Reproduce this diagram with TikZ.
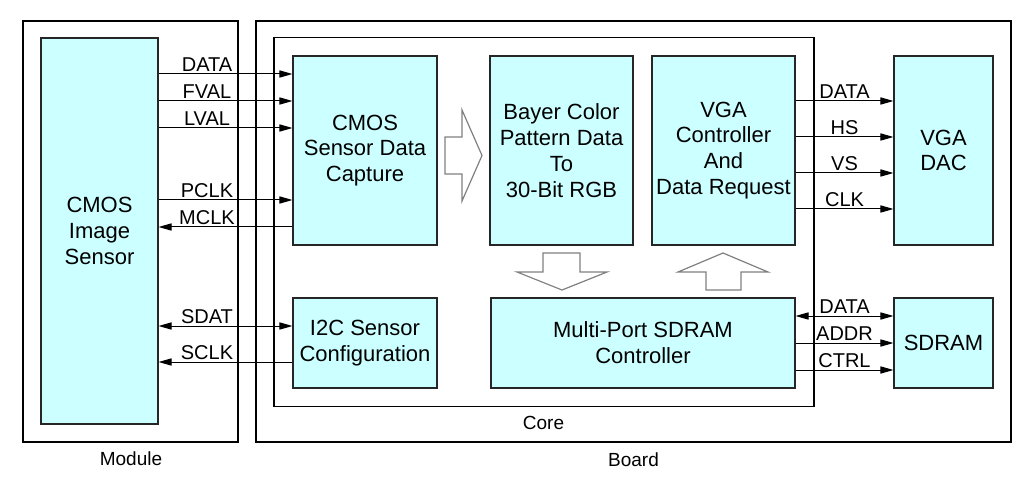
\documentclass[tikz,border=0pt]{standalone}
\usepackage{fontspec}
\setmainfont{Liberation Sans}
\usetikzlibrary{arrows.meta}
\definecolor{boxfill}{HTML}{CCFFFF}
\definecolor{blkgray}{HTML}{808080}
\tikzset{
  frame/.style={draw=black, line width=0.6pt, inner sep=0pt},
  box/.style={draw=black!85, fill=boxfill, line width=0.6pt, inner sep=0pt, align=center,
              font=\fontsize{11}{12.9}\selectfont},
  lbl/.style={inner sep=1pt, font=\fontsize{10}{11}\selectfont},
  captxt/.style={inner sep=0pt, font=\fontsize{9.5}{11}\selectfont},
  sig/.style={line width=0.5pt, -{Triangle[length=6.5pt,width=3.6pt]}},
  bisig/.style={line width=0.5pt, {Triangle[length=6.5pt,width=3.6pt]}-{Triangle[length=6.5pt,width=3.6pt]}},
  bigarrow/.style={draw=blkgray, fill=white, line width=0.6pt, line join=miter}
}
\begin{document}
\begin{tikzpicture}[x=0.5pt,y=-0.5pt]
\useasboundingbox (0,0) rectangle (1027,497);
% frames
\node[frame, minimum width=107.5pt, minimum height=210.5pt] (module) at (130.5,231.5) {};
\node[frame, minimum width=377.5pt, minimum height=210.5pt] (board) at (633.5,231.5) {};
\node[frame, minimum width=270pt, minimum height=184.5pt] (core) at (544,222.25) {};
% blocks
\node[box, minimum width=58.5pt, minimum height=193pt] (sensor) at (99.5,231) {CMOS\\Image\\Sensor};
\node[box, minimum width=72pt, minimum height=94.5pt] (capture) at (365,150.5) {CMOS\\Sensor Data\\Capture};
\node[box, minimum width=71.5pt, minimum height=94.5pt] (bayer) at (561.5,150.5) {Bayer Color\\Pattern Data\\To\\30-Bit RGB};
\node[box, minimum width=71.5pt, minimum height=94.5pt] (vgactl) at (723.5,150.5) {VGA\\Controller\\And\\Data Request};
\node[box, minimum width=49.5pt, minimum height=94.5pt] (dac) at (943.5,150.5) {VGA\\DAC};
\node[box, minimum width=72pt, minimum height=45pt] (i2c) at (365,343) {I2C Sensor\\Configuration};
\node[box, minimum width=152pt, minimum height=45pt] (sdctl) at (643,343) {Multi-Port SDRAM\\Controller};
\node[box, minimum width=49.5pt, minimum height=45pt] (sdram) at (943.5,343) {SDRAM};
% captions
\node[captxt] (lcore) at (543.5,423) {Core};
\node[captxt] (lboard) at (633.5,460) {Board};
\node[captxt] (lmodule) at (131,459) {Module};
% sensor <-> capture signals
\draw[sig] (sensor.east |- 0,74) -- (capture.west |- 0,74);
\draw[sig] (sensor.east |- 0,101) -- (capture.west |- 0,101);
\draw[sig] (sensor.east |- 0,128) -- (capture.west |- 0,128);
\draw[sig] (sensor.east |- 0,200) -- (capture.west |- 0,200);
\draw[sig] (capture.west |- 0,227) -- (sensor.east |- 0,227);
\draw[bisig] (sensor.east |- 0,326) -- (i2c.west |- 0,326);
\draw[sig] (i2c.west |- 0,362) -- (sensor.east |- 0,362);
\node[lbl, anchor=south] (tdata) at (207,74) {DATA};
\node[lbl, anchor=south] (tfval) at (207,101) {FVAL};
\node[lbl, anchor=south] (tlval) at (207,128) {LVAL};
\node[lbl, anchor=south] (tpclk) at (207,200) {PCLK};
\node[lbl, anchor=south] (tmclk) at (207,227) {MCLK};
\node[lbl, anchor=south] (tsdat) at (207,326) {SDAT};
\node[lbl, anchor=south] (tsclk) at (207,362) {SCLK};
% VGA signals
\draw[sig] (vgactl.east |- 0,101) -- node[lbl, above] {DATA} (dac.west |- 0,101);
\draw[sig] (vgactl.east |- 0,137) -- node[lbl, above] {HS} (dac.west |- 0,137);
\draw[sig] (vgactl.east |- 0,173) -- node[lbl, above] {VS} (dac.west |- 0,173);
\draw[sig] (vgactl.east |- 0,209) -- node[lbl, above] {CLK} (dac.west |- 0,209);
% SDRAM signals
\draw[bisig] (sdctl.east |- 0,316) -- node[lbl, above] {DATA} (sdram.west |- 0,316);
\draw[sig] (sdctl.east |- 0,343) -- node[lbl, above] {ADDR} (sdram.west |- 0,343);
\draw[sig] (sdctl.east |- 0,370) -- node[lbl, above] {CTRL} (sdram.west |- 0,370);
% block arrows
\draw[bigarrow] (445,137) -- (462,137) -- (462,110) -- (482,155.5) -- (462,201) -- (462,174) -- (445,174) -- cycle;
\draw[bigarrow] (543,253) -- (580,253) -- (580,272) -- (607,272) -- (562,290) -- (517,272) -- (543,272) -- cycle;
\draw[bigarrow] (706,290) -- (741,290) -- (741,272) -- (768,272) -- (723,253) -- (678,272) -- (706,272) -- cycle;
\end{tikzpicture}
\end{document}
